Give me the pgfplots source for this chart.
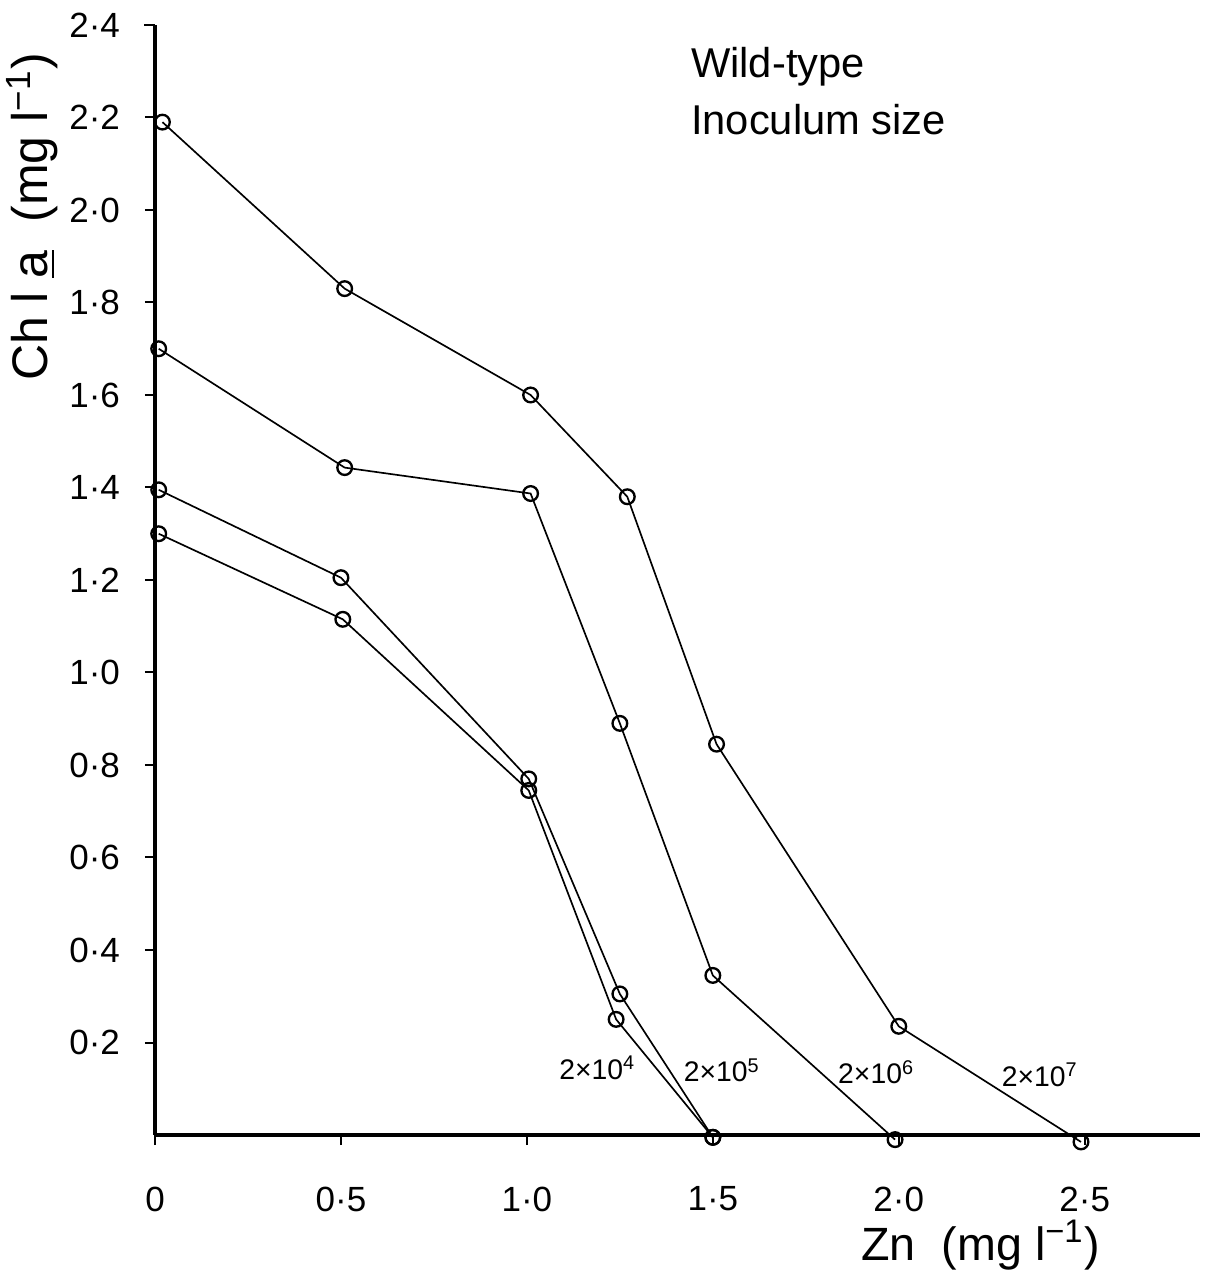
\documentclass[border=0pt]{standalone}
\usepackage{pgfplots}
\pgfplotsset{compat=1.18}
\usepackage{fontspec}
\setmainfont{Liberation Sans}
\begin{document}
\begin{tikzpicture}[x=1pt,y=1pt]
\useasboundingbox (-46.5,-45) rectangle (318.9,340.5);
\begin{axis}[
  at={(0,0)}, anchor=south west,
  scale only axis, width=313.5pt, height=333pt,
  xmin=0, xmax=2.81, ymin=0, ymax=2.4,
  axis x line=bottom, axis y line=left,
  axis line style={-, line width=1.1pt},
  clip=false,
  xtick={0,0.5,1,1.5,2,2.5},
  xticklabels={0,0·5,1·0,1·5,2·0,2·5},
  ytick={0.2,0.4,0.6,0.8,1.0,1.2,1.4,1.6,1.8,2.0,2.2,2.4},
  yticklabels={0·2,0·4,0·6,0·8,1·0,1·2,1·4,1·6,1·8,2·0,2·2,2·4},
  tick style={black, line width=0.6pt},
  tick align=outside,
  major tick length=3pt,
  ticklabel style={font=\fontsize{10.5}{12}\selectfont},
  xticklabel style={yshift=-9pt},
  yticklabel style={xshift=-4pt},
  ser/.style={black, line width=0.5pt, mark=o, mark size=2.2pt,
     mark options={fill=white, line width=0.7pt, solid}},
]
\addplot[ser] coordinates {(0.02,2.19) (0.51,1.83) (1.01,1.60) (1.27,1.38) (1.51,0.845) (2.0,0.235) (2.49,-0.015)};
\addplot[ser] coordinates {(0.01,1.70) (0.51,1.443) (1.01,1.387) (1.25,0.89) (1.50,0.345) (1.99,-0.01)};
\addplot[ser] coordinates {(0.01,1.395) (0.50,1.205) (1.005,0.77) (1.25,0.305) (1.50,-0.005)};
\addplot[ser] coordinates {(0.01,1.30) (0.505,1.115) (1.005,0.745) (1.24,0.25) (1.50,-0.005)};
\node[font=\fontsize{8.5}{10}\selectfont] at (axis cs:1.19,0.145) {2×10\textsuperscript{4}};
\node[font=\fontsize{8.5}{10}\selectfont] at (axis cs:1.525,0.14) {2×10\textsuperscript{5}};
\node[font=\fontsize{8.5}{10}\selectfont] at (axis cs:1.94,0.136) {2×10\textsuperscript{6}};
\node[font=\fontsize{8.5}{10}\selectfont] at (axis cs:2.38,0.13) {2×10\textsuperscript{7}};
\node[anchor=west, font=\fontsize{12.5}{14}\selectfont] at (axis cs:1.41,2.31) {Wild-type};
\node[anchor=west, font=\fontsize{12.5}{14}\selectfont] at (axis cs:1.41,2.195) {Inoculum size};
\node[font=\fontsize{14}{16}\selectfont] at (axis cs:2.22,-0.238) {Zn\ \ (mg l\textsuperscript{−1})};
\node[rotate=90, font=\fontsize{15}{17}\selectfont] at (axis cs:-0.33,1.985) {Ch l \underline{a}\ \ (mg l\textsuperscript{−1})};
\draw[line width=0.8pt] (axis cs:0,2.4) -- (axis cs:-0.03,2.4);
\end{axis}
\end{tikzpicture}
\end{document}
